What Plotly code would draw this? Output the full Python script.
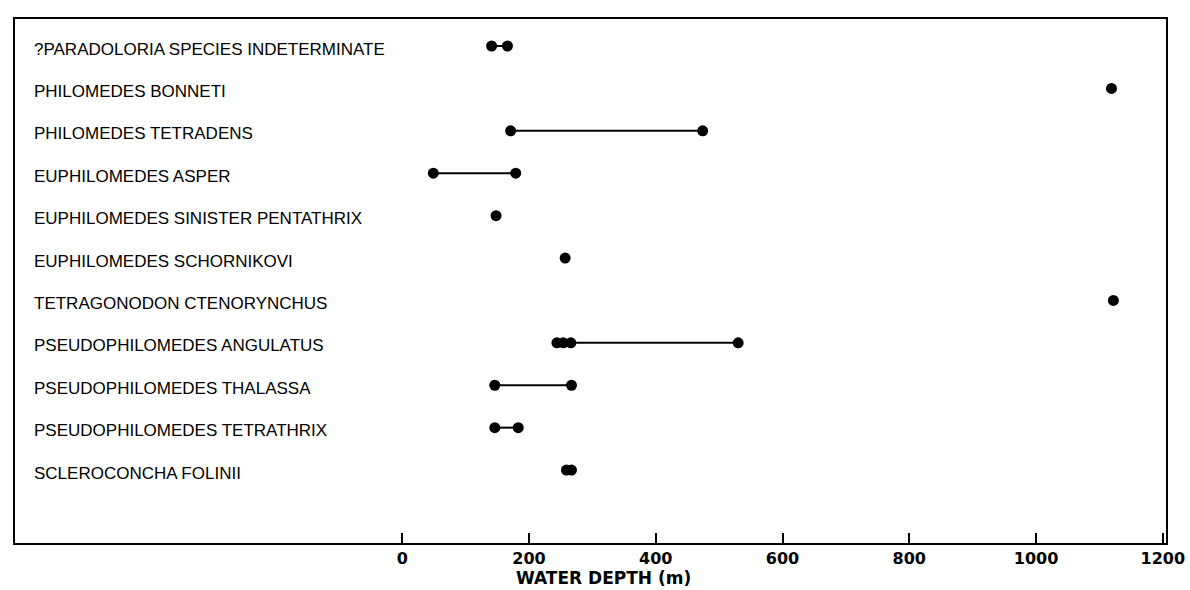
import plotly.graph_objects as go

species = [
    "?PARADOLORIA SPECIES INDETERMINATE",
    "PHILOMEDES BONNETI",
    "PHILOMEDES TETRADENS",
    "EUPHILOMEDES ASPER",
    "EUPHILOMEDES SINISTER PENTATHRIX",
    "EUPHILOMEDES SCHORNIKOVI",
    "TETRAGONODON CTENORYNCHUS",
    "PSEUDOPHILOMEDES ANGULATUS",
    "PSEUDOPHILOMEDES THALASSA",
    "PSEUDOPHILOMEDES TETRATHRIX",
    "SCLEROCONCHA FOLINII",
]
depths = [
    [141, 166],
    [1119],
    [171, 474],
    [49, 179],
    [148],
    [257],
    [1122],
    [244, 254, 266, 530],
    [146, 267],
    [146, 183],
    [259, 267],
]
tick_values = [0, 200, 400, 600, 800, 1000, 1200]
x_title = "WATER DEPTH (m)"

fig = go.Figure()
for i, (name, d) in enumerate(zip(species, depths)):
    fig.add_trace(go.Scatter(
        x=d, y=[i] * len(d), mode="lines+markers", name=name,
        line=dict(color="black", width=2),
        marker=dict(color="black", size=11),
        showlegend=False, hoverinfo="x+name",
    ))
    fig.add_annotation(
        x=0.015, xref="paper", y=i, yref="y", text=name, showarrow=False,
        xanchor="left", yanchor="middle", yshift=-3,
        font=dict(family="Liberation Sans", size=17, color="black"),
    )

fig.add_annotation(
    x=318, xref="x", y=-0.067, yref="paper", text=x_title, showarrow=False,
    xanchor="center", yanchor="middle",
    font=dict(family="DejaVu Sans", size=17, color="black", weight="bold"),
)

fig.update_xaxes(
    range=[-611, 1205], tickvals=tick_values, ticktext=[str(v) for v in tick_values],
    ticks="inside", ticklen=10, tickwidth=2, tickcolor="black",
    showline=True, linecolor="black", linewidth=2, mirror=True,
    showgrid=False, zeroline=False, automargin=False,
    tickfont=dict(family="DejaVu Sans", size=16, color="black", weight="bold"),
)
fig.update_yaxes(
    range=[11.72, -0.637], showticklabels=False, ticks="",
    showline=True, linecolor="black", linewidth=2, mirror=True,
    showgrid=False, zeroline=False, automargin=False,
)
fig.update_layout(
    width=1190, height=590,
    margin=dict(l=15, r=24, t=19, b=47, autoexpand=False),
    plot_bgcolor="white", paper_bgcolor="white",
)
fig.write_html("out.html")
